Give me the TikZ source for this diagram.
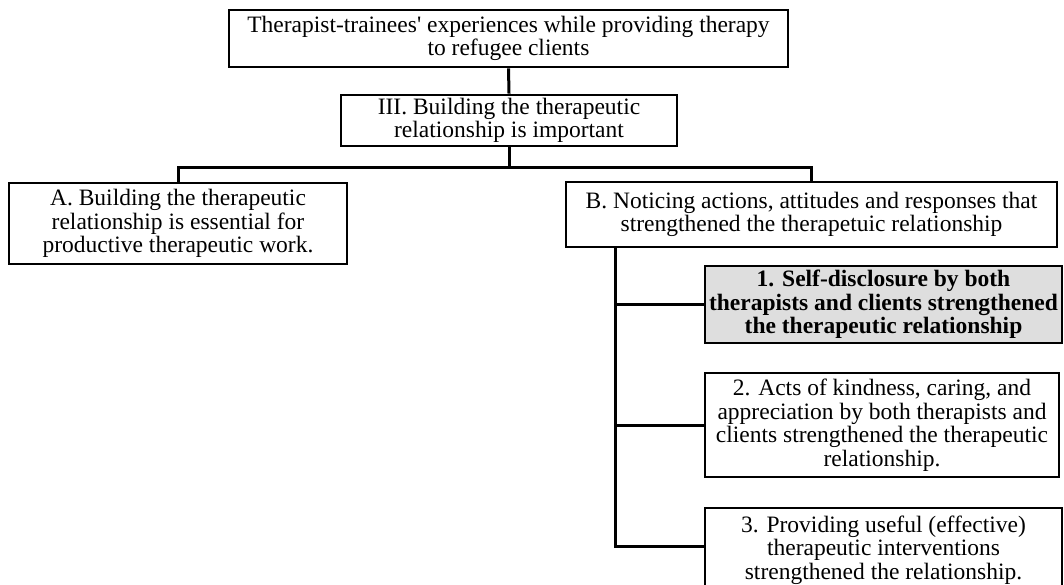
\documentclass[tikz,border=0pt]{standalone}
\usepackage{fontspec}
\setmainfont{Liberation Serif}
\begin{document}
\begin{tikzpicture}[x=1pt,y=-1pt,
  box/.style={draw=black, line width=2.8pt, fill=white, rectangle, inner sep=0pt, align=center,
    font=\fontsize{23.5}{23.5}\selectfont},
  hlbox/.style={box, fill=black!13, font=\fontsize{23.5}{23.5}\selectfont\bfseries},
  conn/.style={draw=black, line width=3pt}]
\clip (0,0) rectangle (1064,584);
\fill[white] (0,0) rectangle (1064,584);
\node[box, minimum width=559pt, minimum height=57pt] (top) at (508.5,38.5)
  {Therapist-trainees\textquotesingle{} experiences while providing therapy\\to refugee clients};
\node[box, minimum width=336pt, minimum height=51pt] (iii) at (509,120.5)
  {III. Building the therapeutic\\relationship is important};
\node[box, minimum width=338pt, minimum height=81pt] (A) at (178,223.5)
  {A. Building the therapeutic\\relationship is essential for\\productive therapeutic work.};
\node[box, minimum width=491pt, minimum height=65pt] (B) at (811.5,214.5)
  {B. Noticing actions, attitudes and responses that\\strengthened the therapetuic relationship};
\node[hlbox, minimum width=357pt, minimum height=77pt] (b1) at (883.5,304.5)
  {1. Self-disclosure by both\\therapists and clients strengthened\\the therapeutic relationship};
\node[box, minimum width=354pt, minimum height=104pt] (b2) at (882,425)
  {2. Acts of kindness, caring, and\\appreciation by both therapists and\\clients strengthened the therapeutic\\relationship.};
\node[box, minimum width=357pt, minimum height=84pt] (b3) at (883.5,550)
  {3. Providing useful (effective)\\therapeutic interventions\\strengthened the relationship.};
\coordinate (j) at (509,167);
\coordinate (bx) at (615,0);
\coordinate (b3w) at (705,546);
\draw[conn] (top.south) -- (iii.north);
\draw[conn] (iii.south) -- (j) -| (A.north);
\draw[conn] (j) -| (B.north);
\draw[conn] (B.south -| bx) -- (b3w -| bx) -- (b3w);
\draw[conn] (b1.west -| bx) -- (b1.west);
\draw[conn] (b2.west -| bx) -- (b2.west);
\end{tikzpicture}
\end{document}
